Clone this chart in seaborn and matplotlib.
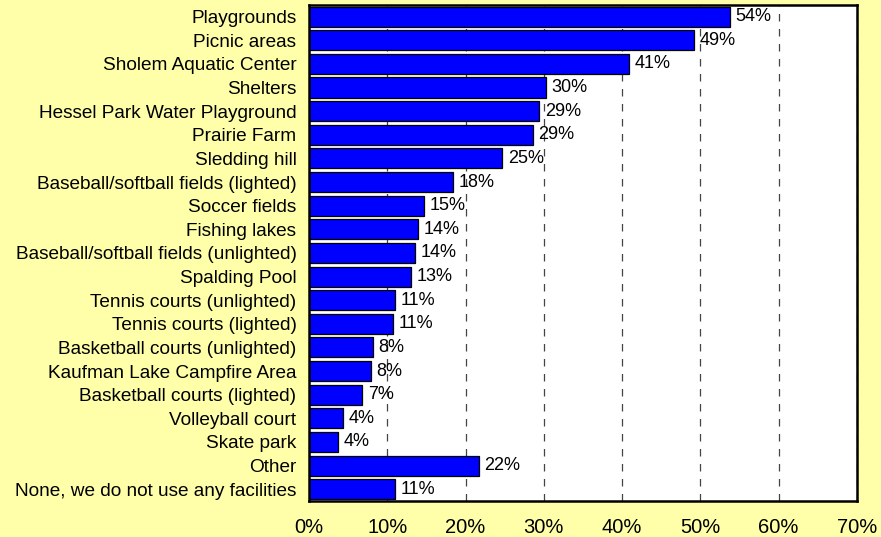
import matplotlib

matplotlib.use("Agg")

import matplotlib.pyplot as plt  # noqa: E402
import pandas as pd  # noqa: E402
import seaborn as sns  # noqa: E402
from matplotlib.ticker import FuncFormatter  # noqa: E402

# Dados (percentual de uso por instalação)
facilities = [
    "Playgrounds",
    "Picnic areas",
    "Sholem Aquatic Center",
    "Shelters",
    "Hessel Park Water Playground",
    "Prairie Farm",
    "Sledding hill",
    "Baseball/softball fields (lighted)",
    "Soccer fields",
    "Fishing lakes",
    "Baseball/softball fields (unlighted)",
    "Spalding Pool",
    "Tennis courts (unlighted)",
    "Tennis courts (lighted)",
    "Basketball courts (unlighted)",
    "Kaufman Lake Campfire Area",
    "Basketball courts (lighted)",
    "Volleyball court",
    "Skate park",
    "Other",
    "None, we do not use any facilities",
]
percent = [
    53.8, 49.2, 40.9, 30.3, 29.4, 28.6, 24.7, 18.4, 14.7, 13.9, 13.5,
    13.0, 11.0, 10.7, 8.2, 7.9, 6.8, 4.3, 3.7, 21.7, 11.0,
]
x_ticks = [0, 10, 20, 30, 40, 50, 60, 70]

_BG = "#FFFFAA"
_BAR = "#0000FF"

df = pd.DataFrame({"facility": facilities, "percent": percent})

sns.set_style("white")
plt.rcParams["font.family"] = ["Liberation Sans", "DejaVu Sans"]
plt.rcParams["text.color"] = "black"
plt.rcParams["xtick.color"] = "black"
plt.rcParams["ytick.color"] = "black"

fig = plt.figure(figsize=(8.81, 5.37), dpi=100, facecolor=_BG)
ax = fig.add_axes([0.3507, 0.067, 0.622, 0.924])

sns.barplot(
    data=df, x="percent", y="facility", orient="h", color=_BAR,
    edgecolor="black", linewidth=0.9, width=0.85, saturation=1, ax=ax,
)

ax.set_xlim(0, 70)
ax.set_ylim(len(facilities) - 0.5, -0.5)
ax.set_xticks(x_ticks)
ax.xaxis.set_major_formatter(FuncFormatter(lambda v, _: f"{v:.0f}%"))
ax.grid(axis="x", color="#444444", linestyle=(0, (6, 6)), linewidth=0.9)
ax.set_axisbelow(True)
ax.set_xlabel("")
ax.set_ylabel("")
ax.set_facecolor("white")
ax.tick_params(axis="x", length=0, pad=12, labelsize=14.5, labelcolor="black")
ax.tick_params(axis="y", length=0, pad=9, labelsize=13.7, labelcolor="black")
for spine in ax.spines.values():
    spine.set_visible(True)
    spine.set_color("black")
    spine.set_linewidth(1.8)

ax.bar_label(
    ax.containers[0], labels=[f"{v:.0f}%" for v in percent],
    padding=4, fontsize=13, color="black",
)

fig.savefig("out.png", dpi=100, facecolor=_BG)
plt.close(fig)
